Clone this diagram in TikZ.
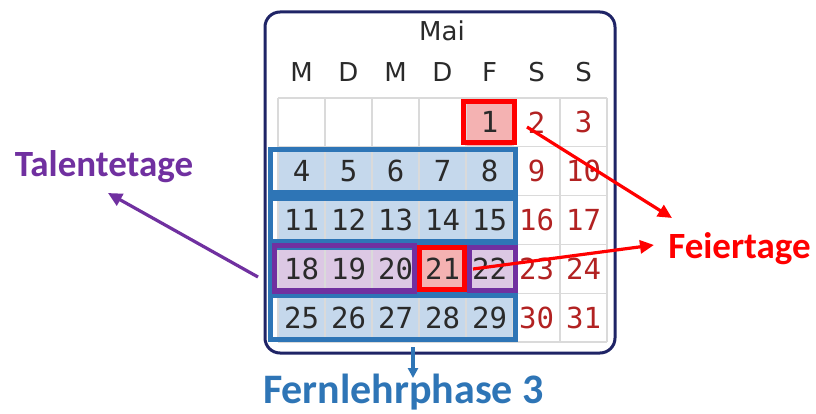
\documentclass[tikz,border=0pt]{standalone}
\usepackage{fontspec}
\setmainfont{Carlito}
\newfontfamily\hdrfont{DejaVu Sans}
\newfontfamily\numfont{DejaVu Sans Mono}
\usetikzlibrary{arrows.meta}
\definecolor{navy}{HTML}{1F2466}
\definecolor{bluebox}{HTML}{2E75B6}
\definecolor{purplebox}{HTML}{7030A0}
\definecolor{redbox}{HTML}{FF0000}
\definecolor{cellblue}{HTML}{C5D8EC}
\definecolor{celllav}{HTML}{DCC8E4}
\definecolor{cellpink}{HTML}{F4B2B2}
\definecolor{gridgray}{HTML}{DADADA}
\definecolor{numdark}{HTML}{2A2A2A}
\definecolor{numred}{HTML}{B22222}
\tikzset{
  frame/.style={draw=navy,line width=3pt,rounded corners=15pt},
  gridline/.style={draw=gridgray,line width=1.2pt},
  bluerow/.style={draw=bluebox,line width=5.5pt},
  purplerow/.style={draw=purplebox,line width=5.5pt},
  redcell/.style={draw=redbox,line width=5.5pt},
  numtext/.style={inner sep=0pt,font=\numfont\fontsize{29}{31}\selectfont},
  hdrtext/.style={inner sep=0pt,text=numdark,font=\hdrfont\fontsize{26}{28}\selectfont},
  label/.style={inner sep=0pt,font=\bfseries\fontsize{37}{40}\selectfont},
  arr/.style={line width=3.2pt,-{Triangle[length=14pt,width=13pt]}},
}
\begin{document}
\begin{tikzpicture}[x=1pt,y=-1pt]
\useasboundingbox[fill=white] (0,0) rectangle (816,414);
% cell fills
\foreach \r in {1,...,4}{
  \foreach \c in {0,...,4}{
    \fill[cellblue] ({278+47*\c},{98+48.8*\r}) rectangle ++(47,48.8);
  }
}
\fill[cellpink] ({278+47*4},98) rectangle ++(47,48.8);
\fill[celllav] (278,{98+48.8*3}) rectangle ++(141,48.8);
\fill[cellpink] ({278+47*3},{98+48.8*3}) rectangle ++(47,48.8);
\fill[celllav] ({278+47*4},{98+48.8*3}) rectangle ++(47,48.8);
% grid
\foreach \i in {0,...,7}{
  \draw[gridline] ({278+47*\i},98) -- ({278+47*\i},342);
}
\foreach \j in {0,...,5}{
  \draw[gridline] (278,{98+48.8*\j}) -- (607,{98+48.8*\j});
}
% frame
\draw[frame] (265,12) rectangle (615,353);
% header
\node[hdrtext] (mai) at (442,31) {Mai};
\foreach \l [count=\i from 0] in {M,D,M,D,F,S,S}{
  \node[hdrtext] (h\i) at ({301.5+47*\i},72) {\l};
}
% boxes
\foreach \r in {1,...,4}{
  \draw[bluerow] (270.5,{98+48.8*\r+2.5}) rectangle (515.5,{98+48.8*(\r+1)-2.5});
}
\draw[purplerow] (274.5,245.5) rectangle (414.5,291);
\draw[redcell] (419.5,247.5) rectangle (464.5,289.5);
\draw[purplerow] (469.5,247.5) rectangle (515.5,290.5);
\draw[redcell] (463.5,101.5) rectangle (514.5,142.5);
% numbers
\foreach \n in {1,...,31}{
  \pgfmathtruncatemacro\c{mod(\n+3,7)}
  \pgfmathtruncatemacro\r{int((\n+3)/7)}
  \ifnum\c>4
    \node[numtext,text=numred] (d\n) at ({301.5+47*\c},{122.4+48.8*\r}) {\n};
  \else
    \node[numtext,text=numdark] (d\n) at ({301.5+47*\c},{122.4+48.8*\r}) {\n};
  \fi
}
% labels
\node[label,text=purplebox] (talent) at (104,167) {Talentetage};
\node[label,text=redbox] (feier) at (739.5,249) {Feiertage};
\node[label,text=bluebox,font=\bfseries\fontsize{42}{45}\selectfont] (fern) at (403.5,392) {Fernlehrphase 3};
% connectors
\coordinate (feierA) at (527,127);
\coordinate (feierAtip) at (672,218);
\coordinate (feierB) at (473,269);
\coordinate (feierBtip) at (654,245);
\coordinate (talentS) at (258,277);
\coordinate (talentTip) at (108,193);
\coordinate (fernS) at (413,347);
\coordinate (fernTip) at (413,378);
\draw[arr,redbox] (feierA) -- (feierAtip);
\draw[arr,redbox] (feierB) -- (feierBtip);
\draw[arr,purplebox] (talentS) -- (talentTip);
\draw[arr,bluebox,-{Triangle[length=10pt,width=10pt]}] (fernS) -- (fernTip);
\end{tikzpicture}
\end{document}
